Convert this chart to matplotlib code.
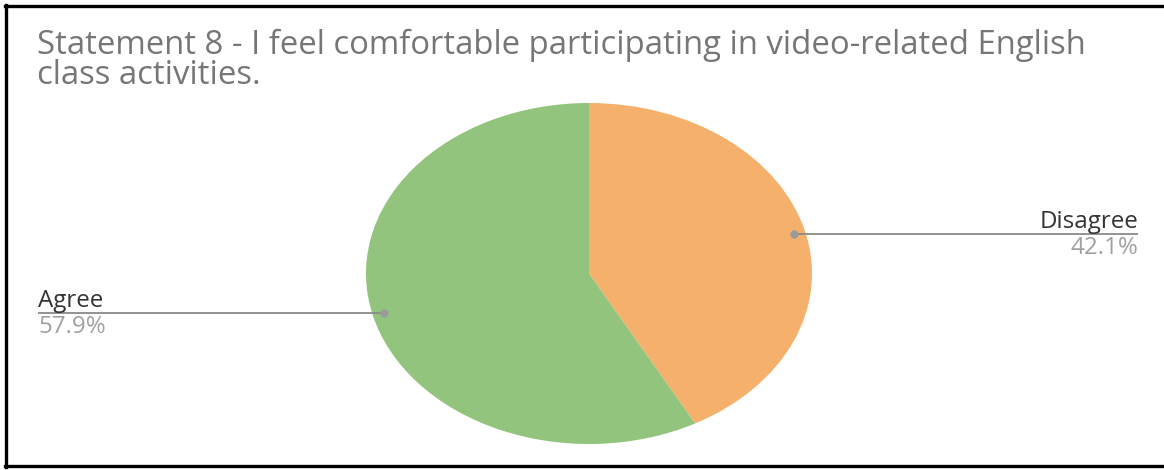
import matplotlib
matplotlib.use("Agg")
import matplotlib.pyplot as plt
import numpy as np
from matplotlib.lines import Line2D
from matplotlib.font_manager import FontProperties

# ---- data ----
categories = ["Disagree", "Agree"]
values = [42.1, 57.9]
colors = ["#F5B16B", "#93C47D"]
title_lines = ["Statement 8 - I feel comfortable participating in video-related English",
               "class activities."]

W, H = 1164, 470
fig = plt.figure(figsize=(W / 100, H / 100), dpi=100)
fig.patch.set_facecolor("white")
FONT = "Open Sans"

# pie axes sized to the (elliptical) pie footprint
cx, cy, rx, ry = 589, 273.5, 223, 170.5
pax = fig.add_axes([(cx - rx) / W, (H - (cy + ry)) / H, 2 * rx / W, 2 * ry / H])
wedges, _ = pax.pie(values, colors=colors, startangle=90, counterclock=False,
                    radius=1.0, wedgeprops=dict(linewidth=0))
pax.set_aspect("auto")
pax.set_xlim(-1, 1)
pax.set_ylim(-1, 1)
pax.axis("off")

# overlay axes in pixel coordinates
ov = fig.add_axes([0, 0, 1, 1], zorder=5)
ov.set_xlim(0, W)
ov.set_ylim(H, 0)
ov.axis("off")

fig.canvas.draw()
r = fig.canvas.get_renderer()
to_ov = lambda p: ov.transData.inverted().transform(pax.transData.transform(p))


def fit(txt, target):
    w = txt.get_window_extent(r).width
    txt.set_fontsize(txt.get_fontsize() * target / w)
    return txt.get_fontsize()


# title (single wrapped text)
probe = ov.text(0, 0, title_lines[0], fontsize=18, family=FONT)
fs = fit(probe, 1051)
probe.remove()
lp_h = r.get_text_width_height_descent("lp", FontProperties(family=FONT, size=fs), ismath=False)[1]
tt = ov.text(37, 54, "\n".join(title_lines), fontsize=fs, family=FONT, color="#767676",
             va="baseline", linespacing=29 / lp_h)
fig.canvas.draw()
# align first-line baseline to y=54 regardless of multi-line baseline convention
bb = tt.get_window_extent(r)
top_px = H - bb.y1  # top of the text box in overlay coords
ascent = r.get_text_width_height_descent("Sl", FontProperties(family=FONT, size=fs), ismath=False)
tt.set_va("top")
tt.set_y(54 - (ascent[1] - ascent[2]))

# label font size fitted to the "Disagree" label width
probe = ov.text(0, 0, "Disagree", fontsize=13, family=FONT)
lfs = fit(probe, 98)
probe.remove()

# leader lines + labels
for wdg, cat, val in zip(wedges, categories, values):
    mid = np.deg2rad((wdg.theta1 + wdg.theta2) / 2)
    px, py = to_ov((0.95 * np.cos(mid), 0.95 * np.sin(mid)))
    right = np.cos(mid) > 0
    ex = 1138 if right else 38
    ov.plot([px, ex], [py, py], color="#8a8a8a", lw=1.3, solid_capstyle="butt")
    ov.plot([px], [py], "o", color="#9a9a9a", ms=6, mec="none")
    ha = "right" if right else "left"
    ov.text(ex, py - 6, cat, fontsize=lfs, family=FONT, color="#333333", ha=ha, va="baseline")
    ov.text(ex, py + 20, f"{val:.1f}%", fontsize=lfs, family=FONT, color="#a0a0a0", ha=ha, va="baseline")

# border (top, left, bottom)
for xs, ys in [([5, W], [6, 6]), ([6, 6], [5, 467]), ([5, W], [466, 466])]:
    ov.add_line(Line2D(xs, ys, color="black", lw=2.4, solid_capstyle="projecting"))

fig.savefig("out.png", dpi=100, facecolor="white")
